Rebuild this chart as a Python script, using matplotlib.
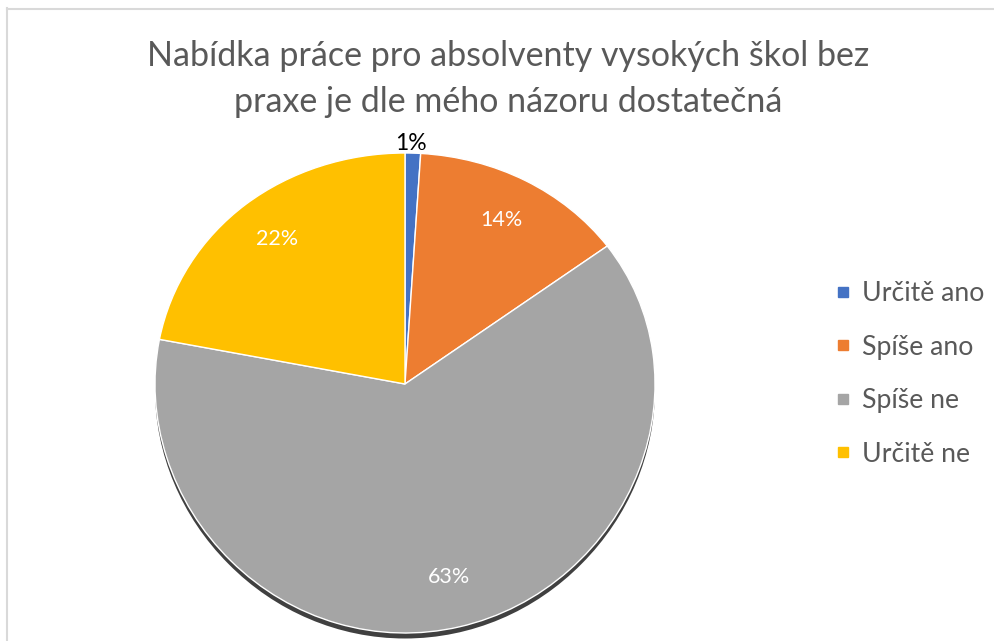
import numpy as np
import matplotlib.pyplot as plt
from matplotlib.patches import PathPatch
from matplotlib.path import Path
from matplotlib.lines import Line2D

plt.rcParams['font.family'] = ['Lato', 'DejaVu Sans']

title = 'Nabídka práce pro absolventy vysokých škol bez\npraxe je dle mého názoru dostatečná'
labels = ['Určitě ano', 'Spíše ano', 'Spíše ne', 'Určitě ne']
shares = [1, 14, 63, 22]
colors = ['#4472C4', '#ED7D31', '#A5A5A5', '#FFC000']
text_grey = '#595959'

W, H = 995, 641
fig = plt.figure(figsize=(W / 100, H / 100), dpi=100)


def tilt(y):
    # slight perspective: upper half squashed a bit
    return 0.96 * y - 0.036 * y ** 2


# pie axes, 1 data unit = 250 px, centre of the pie at (405, 384) px
cx, cy = 405, 384
ax = fig.add_axes([(cx - 260) / W, (H - cy - 260) / H, 520 / W, 520 / H])

wedges, _, pcts = ax.pie(shares, colors=colors, startangle=90, counterclock=False,
                         autopct='%1.0f%%', pctdistance=0.8,
                         wedgeprops=dict(edgecolor='white', linewidth=1))
ax.set_xlim(-1.04, 1.04)
ax.set_ylim(-1.04, 1.04)
ax.axis('off')

# drop shadow under the pie
rim = Path.circle((0, 0), 1.0)
v = rim.vertices.copy()
v[:, 1] = tilt(v[:, 1]) - 0.022
ax.add_patch(PathPatch(Path(v, rim.codes), facecolor='#404040', edgecolor='none', zorder=0))

for w in wedges:
    p = w.get_path()
    v = p.vertices.copy()
    v[:, 1] = tilt(v[:, 1])
    ax.add_patch(PathPatch(Path(v, p.codes), facecolor=w.get_facecolor(),
                           edgecolor='white', linewidth=1, zorder=2))
    w.remove()

for t, s in zip(pcts, shares):
    x, y = t.get_position()
    t.set_fontsize(15.5)
    t.set_zorder(3)
    if s < 5:
        # tiny slice: label sits above the rim, in dark text
        t.set_position((x, tilt(1.0) + 0.04))
        t.set_color('black')
        t.set_fontsize(16.5)
    else:
        t.set_position((x, tilt(y)))
        t.set_color('white')

fig.text(0.511, 1 - 79 / H, title, ha='center', va='center', fontsize=24.5,
         color=text_grey, linespacing=1.55)

handles = [Line2D([], [], marker='s', linestyle='none', markersize=7.5,
                  markerfacecolor=c, markeredgecolor=c) for c in colors]
fig.legend(handles, labels, loc='center left', bbox_to_anchor=(822 / W, 1 - 374 / H),
           frameon=False, fontsize=19.2, labelcolor=text_grey, handlelength=0.55,
           handletextpad=0.45, labelspacing=1.07, borderpad=0)

# light frame around the chart area
fig.add_artist(Line2D([7 / W, 1], [1 - 8.5 / H, 1 - 8.5 / H], color='#d9d9d9', lw=1.5))
fig.add_artist(Line2D([7.5 / W, 7.5 / W], [0, 1 - 8 / H], color='#d9d9d9', lw=1.5))

fig.savefig('out.png', dpi=100, facecolor='white')
